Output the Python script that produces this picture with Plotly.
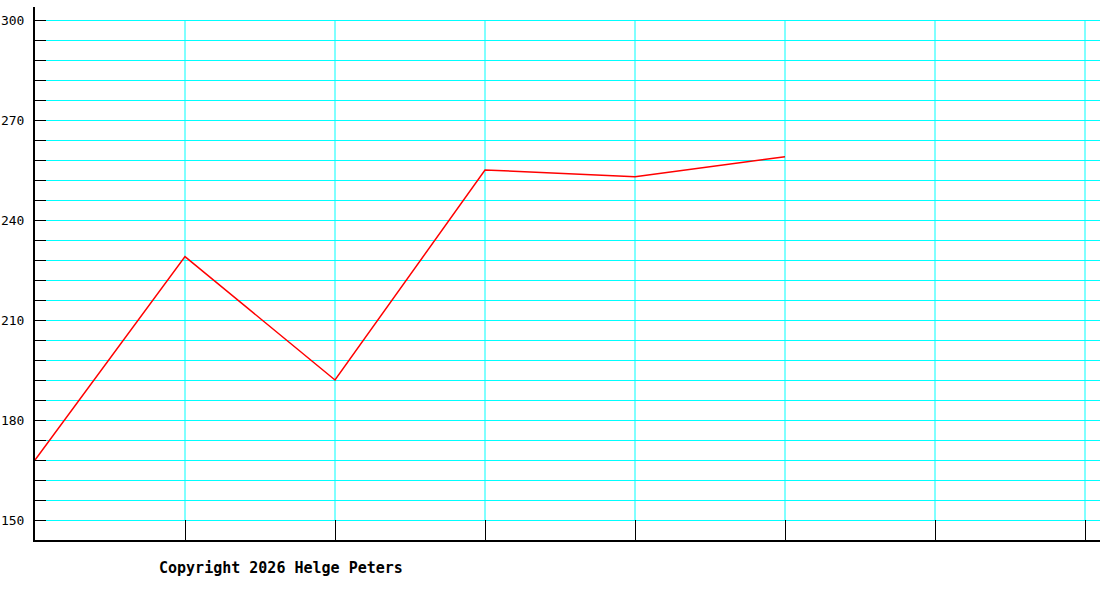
import plotly.graph_objects as go

## Donnees ------------------------------------------------------------
x_pos = [0, 1, 2, 3, 4, 5]
valeurs = [168, 229, 192, 255, 253, 259]

y_ticks = list(range(150, 301, 6))
y_labels = [str(v) if v % 30 == 0 else "" for v in y_ticks]
x_grid = [1, 2, 3, 4, 5, 6, 7]

copyright_txt = "Copyright 2026 Helge Peters"

## Figure -------------------------------------------------------------
fig = go.Figure()

fig.add_trace(go.Scatter(x=x_pos, y=valeurs, mode="lines",
                         line=dict(color="red", width=1.5),
                         showlegend=False, hoverinfo="skip"))

# lignes verticales de la grille (de 150 a 300 seulement)
for xv in x_grid:
    fig.add_shape(type="line", x0=xv, x1=xv, y0=y_ticks[0], y1=y_ticks[-1],
                  xref="x", yref="y", line=dict(color="#00FFFF", width=1),
                  layer="below")

fig.add_annotation(text="<b>" + copyright_txt + "</b>", xref="paper", yref="paper",
                   x=(281 - 35) / 1065, y=-28 / 533, showarrow=False,
                   xanchor="center", yanchor="middle",
                   font=dict(family="DejaVu Sans Mono", size=15, color="black"))

fig.update_xaxes(range=[0, 1065 / 150], showgrid=False, zeroline=False,
                 tickvals=x_grid, ticktext=[""] * len(x_grid),
                 ticks="inside", ticklen=20, tickcolor="black", tickwidth=1,
                 showline=True, linecolor="black", linewidth=2, automargin=False)

fig.update_yaxes(range=[144, 144 + 533 * 0.3], zeroline=False,
                 tickvals=y_ticks, ticktext=y_labels,
                 showgrid=True, gridcolor="#00FFFF", gridwidth=1,
                 ticks="inside", ticklen=11, tickcolor="black", tickwidth=1,
                 ticklabelstandoff=6,
                 tickfont=dict(family="DejaVu Sans Mono", size=13, color="black"),
                 showline=True, linecolor="black", linewidth=2, automargin=False)

fig.update_layout(width=1100, height=600,
                  margin=dict(l=35, r=0, t=7, b=60),
                  plot_bgcolor="white", paper_bgcolor="white")

# pas de marge autour du graphique dans la page
fig.write_html("out.html", config={"displayModeBar": False},
               post_script="document.body.style.margin='0';")
